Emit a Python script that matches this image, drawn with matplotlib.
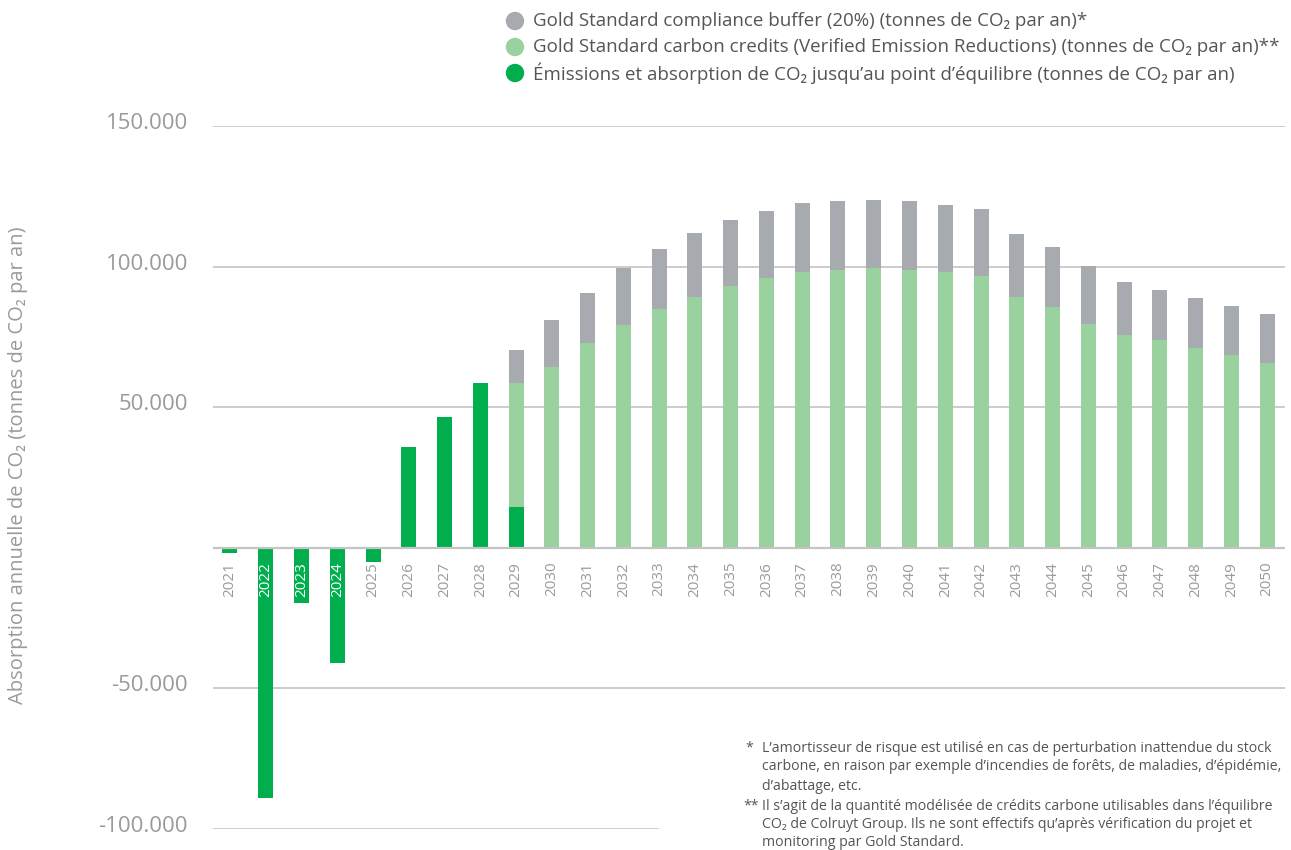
import matplotlib
matplotlib.use("Agg")
import matplotlib.pyplot as plt
import numpy as np
from matplotlib.transforms import ScaledTranslation

plt.rcParams['font.family'] = ['Open Sans', 'DejaVu Sans']

years = [str(y) for y in range(2021, 2051)]
# Emissions and absorption until break-even (dark green)
emissions = [-2000, -89000, -19500, -41000, -5200, 35900, 46500, 58600, 14600] + [0] * 21
# Gold Standard carbon credits (light green)
credits = [0] * 8 + [44000, 64300, 72900, 79300, 84900, 89200, 93100, 96000, 98100,
                     98800, 99500, 98800, 98100, 96700, 89200, 85700, 79600, 75700,
                     73900, 71100, 68600, 65700]
# Gold Standard compliance buffer (gray), stacked on top
buffer = [0] * 8 + [11800, 16700, 17700, 20200, 21400, 22800, 23500, 23800, 24500,
                    24500, 24200, 24500, 23800, 23800, 22400, 21300, 20600, 18800,
                    17800, 17800, 17400, 17500]
yticks = [-100000, -50000, 0, 50000, 100000, 150000]
ytick_labels = ["-100.000", "-50.000", "", "50.000", "100.000", "150.000"]

C_GRAY = "#A7ABAF"
C_LIGHT = "#99D19F"
C_GREEN = "#00AE4D"
C_TEXT = "#9A9A9A"
C_DARKTEXT = "#555555"
C_GRID = "#C4C4C4"

fig = plt.figure(figsize=(12.91, 8.5), dpi=100)
ax = fig.add_axes([213 / 1291, 21 / 850, 1072 / 1291, 703 / 850])

x = np.arange(len(years))
em = np.array(emissions, dtype=float)
cr = np.array(credits, dtype=float)
bu = np.array(buffer, dtype=float)
w = 0.42

# gridlines
for yv in [50000, 100000, 150000, -50000]:
    ax.axhline(yv, color=C_GRID, lw=1.2, zorder=0)
ax.axhline(-100000, xmin=0, xmax=0.415, color=C_GRID, lw=1.2, zorder=0)

pos_base = np.where(em > 0, em, 0)
ax.bar(x, em, width=w, color=C_GREEN, zorder=2)
ax.bar(x, cr, width=w, bottom=pos_base, color=C_LIGHT, zorder=2)
ax.bar(x, bu, width=w, bottom=pos_base + cr, color=C_GRAY, zorder=2)
ax.axhline(0, color=C_GRID, lw=1.6, zorder=3)

ax.set_xlim(-0.475, 29.5)
ax.set_ylim(-100000, 150000)
for s in ax.spines.values():
    s.set_visible(False)
ax.set_xticks([])
ax.set_yticks(yticks)
ax.set_yticklabels(ytick_labels, fontsize=16, color=C_TEXT)
ax.tick_params(axis='y', length=0, pad=18)
for lab in ax.get_yticklabels():
    lab.set_transform(lab.get_transform() + ScaledTranslation(0, 0.05, fig.dpi_scale_trans))

# year labels
for i, yr in enumerate(years):
    col = "white" if yr in ("2022", "2023", "2024") else C_TEXT
    ax.text(i, -5000, yr, rotation=90, ha='center', va='top', fontsize=11,
            color=col, zorder=4)

fig.text(18 / 1291, 1 - 465 / 850, "Absorption annuelle de CO₂ (tonnes de CO₂ par an)",
         rotation=90, ha='center', va='center', fontsize=14.5, color=C_TEXT)

# legend
leg_items = [
    (C_GRAY, "Gold Standard compliance buffer (20%) (tonnes de CO₂ par an)*"),
    (C_LIGHT, "Gold Standard carbon credits (Verified Emission Reductions) (tonnes de CO₂ par an)**"),
    (C_GREEN, "Émissions et absorption de CO₂ jusqu’au point d’équilibre (tonnes de CO₂ par an)"),
]
for k, (c, t) in enumerate(leg_items):
    yp = 1 - (21 + 26 * k) / 850
    fig.patches.append(matplotlib.patches.Ellipse((515 / 1291, yp), 17 / 1291, 17 / 850,
                                                  transform=fig.transFigure, color=c))
    fig.text(533 / 1291, yp, t, ha='left', va='center', fontsize=13.5, color=C_DARKTEXT)

# footnotes
fn = [
    (745, 748, "*"),
    (762, 748, "L’amortisseur de risque est utilisé en cas de perturbation inattendue du stock"),
    (762, 767, "carbone, en raison par exemple d’incendies de forêts, de maladies, d’épidémie,"),
    (762, 786, "d’abattage, etc."),
    (743, 806, "**"),
    (762, 806, "Il s’agit de la quantité modélisée de crédits carbone utilisables dans l’équilibre"),
    (762, 825, "CO₂ de Colruyt Group. Ils ne sont effectifs qu’après vérification du projet et"),
    (762, 843, "monitoring par Gold Standard."),
]
for xp, yp, t in fn:
    fig.text(xp / 1291, 1 - yp / 850, t, ha='left', va='center', fontsize=10.2, color=C_DARKTEXT)

fig.savefig("out.png", dpi=100)
